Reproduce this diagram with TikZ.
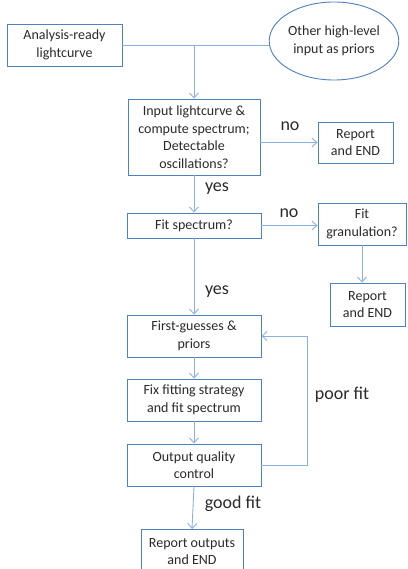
\documentclass[tikz,border=0pt]{standalone}
\usepackage{fontspec}
\setmainfont{Carlito}
\usetikzlibrary{arrows.meta,shapes.geometric}
\definecolor{boxblue}{HTML}{4F81BD}
\definecolor{lineblue}{HTML}{8DB0DD}
\definecolor{txt}{HTML}{2A2A2A}
\begin{document}
\begin{tikzpicture}[x=1pt,y=-1pt,
  box/.style={draw=boxblue, line width=0.9pt, fill=white, align=center, text=txt,
    font=\fontsize{14}{17.5}\selectfont, inner sep=0pt},
  oval/.style={box, ellipse},
  arr/.style={draw=lineblue, line width=0.9pt, -{Straight Barb[length=5pt,width=9pt]}},
  ln/.style={draw=lineblue, line width=0.9pt},
  lab/.style={text=txt, font=\fontsize{18}{20}\selectfont, inner sep=0pt}]
\useasboundingbox (0,0) rectangle (407,569);
\clip (0,0) rectangle (407,569);
\node[box, minimum width=115pt, minimum height=42pt] (ar) at (64.5,45) {Analysis-ready\\lightcurve};
\node[oval, minimum width=124pt, minimum height=78pt] (oh) at (334,41) {Other high-level\\input as priors};
\node[box, minimum width=132pt, minimum height=76pt] (in) at (194,137) {Input lightcurve \&\\compute spectrum;\\Detectable\\oscillations?};
\node[box, minimum width=75pt, minimum height=41pt] (r1) at (355.5,142.5) {Report\\and END};
\node[box, minimum width=134pt, minimum height=25pt] (fs) at (194,225.5) {Fit spectrum?};
\node[box, minimum width=88pt, minimum height=42pt] (fg) at (362,224) {Fit\\granulation?};
\node[box, minimum width=75pt, minimum height=43pt] (r2) at (367.5,304.5) {Report\\and END};
\node[box, minimum width=134pt, minimum height=42pt] (fp) at (194,336) {First-guesses \&\\priors};
\node[box, minimum width=134pt, minimum height=42pt] (ff) at (194,400) {Fix fitting strategy\\and fit spectrum};
\node[box, minimum width=134pt, minimum height=42pt] (oq) at (194,465) {Output quality\\control};
\node[box, minimum width=102pt, minimum height=44pt] (ro) at (192,551.5) {Report outputs\\and END};
\coordinate (m) at (194,45);
\coordinate (fb) at (307,336);
\draw[ln] (ar.east |- m) -- (oh.west |- m);
\draw[arr] (m) -- (in.north);
\draw[arr] (r1.west -| in.east) -- (r1.west);
\draw[arr] (in.south) -- (fs.north);
\draw[arr] (fs.east) -- (fs.east -| fg.west);
\draw[arr] (fg.south) -- (fg.south |- r2.north);
\draw[arr] (fs.south) -- (fp.north);
\draw[arr] (fp.south) -- (ff.north);
\draw[arr] (ff.south) -- (oq.north);
\draw[arr] (oq.east) -| (fb) -- (fp.east);
\draw[arr] (oq.south) -- (ro.north);
\node[lab] (l1) at (290,126) {no};
\node[lab] (l2) at (217,189) {yes};
\node[lab] (l3) at (289,213) {no};
\node[lab] (l4) at (217,292) {yes};
\node[lab] (l5) at (342,395) {poor fit};
\node[lab] (l6) at (233,504) {good fit};
\end{tikzpicture}
\end{document}
